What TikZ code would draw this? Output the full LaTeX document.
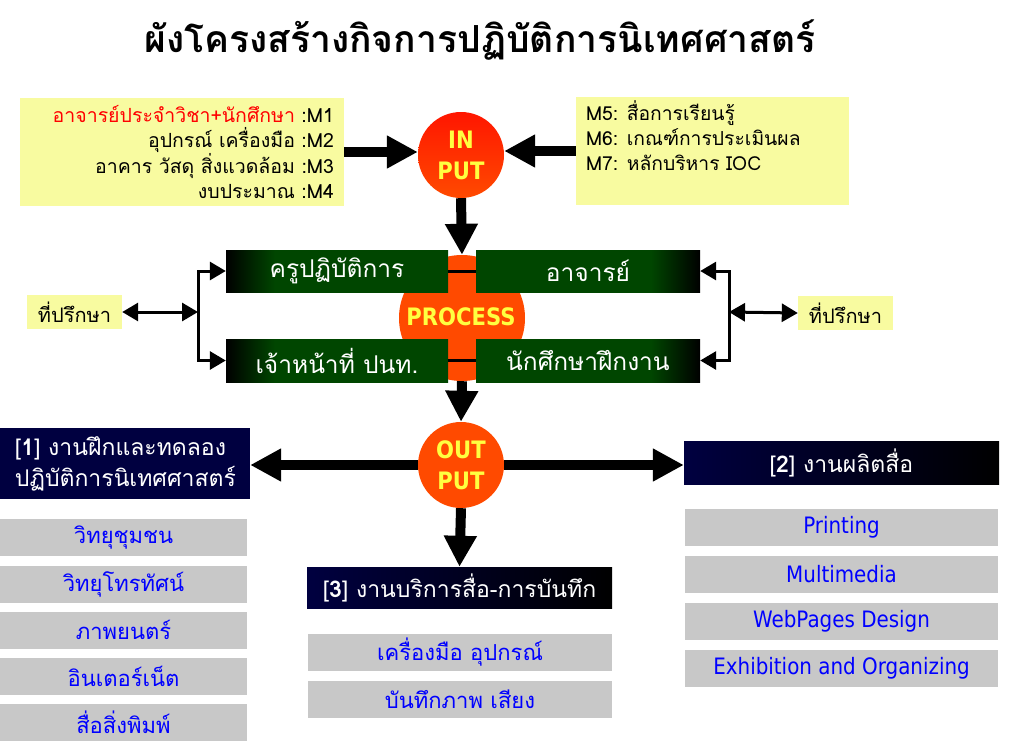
\documentclass[tikz,border=0pt]{standalone}
\usepackage{fontspec}
\setmainfont[Script=Thai]{Loma}
\newfontfamily\latinfont[FakeStretch=0.88]{DejaVu Sans}
\usetikzlibrary{arrows.meta,positioning,shadings}

\definecolor{notebg}{RGB}{248,251,160}
\definecolor{procorange}{RGB}{255,74,0}
\definecolor{inputred}{RGB}{255,22,0}
\definecolor{procgreen}{RGB}{0,70,0}
\definecolor{jobnavy}{RGB}{0,0,64}
\definecolor{itemgray}{RGB}{200,200,200}
\definecolor{itemblue}{RGB}{0,0,255}
\definecolor{hubyellow}{RGB}{255,255,64}

\pgfdeclarehorizontalshading{greenbar}{100bp}{color(0bp)=(black); color(25bp)=(black); color(36bp)=(procgreen); color(100bp)=(procgreen)}

\tikzset{
  note/.style={fill=notebg, inner sep=0pt},
  hub/.style={circle, fill=procorange, minimum size=86pt, inner sep=0pt,
    text=hubyellow, align=center,
    font=\latinfont\bfseries\fontsize{24}{31}\selectfont},
  unit/.style={shading=greenbar, minimum width=222pt, minimum height=42pt,
    inner sep=0pt, text=white, font=\fontsize{24.5}{28}\selectfont},
  job/.style={inner sep=0pt, text=white, font=\fontsize{23}{31}\selectfont},
  item/.style={fill=itemgray, text=itemblue, inner sep=0pt, minimum height=37pt,
    font=\fontsize{22}{26}\selectfont},
  bigarrow/.style={line width=10pt, -{Triangle[length=31pt,width=31pt]}},
  bracket/.style={line width=3pt, {Triangle[length=16pt,width=18pt]}-{Triangle[length=16pt,width=18pt]}},
}

\begin{document}
\begin{tikzpicture}[x=1pt,y=-1pt]
  \path[fill=white,use as bounding box] (0,0) rectangle (1018,752);

  \node[font=\bfseries\fontsize{37.3}{42}\selectfont] (title) at (480,40) {ผังโครงสร้างกิจการปฏิบัติการนิเทศศาสตร์};

  % input side
  \node[note, minimum width=324pt, minimum height=108pt, text width=304pt, align=right,
    font=\fontsize{19.5}{25}\selectfont] (lnote) at (182,152)
    {{\color{red}อาจารย์ประจำวิชา+นักศึกษา} :M1\\อุปกรณ์ เครื่องมือ :M2\\อาคาร วัสดุ สิ่งแวดล้อม :M3\\งบประมาณ :M4};
  \node[note, minimum width=273pt, minimum height=108pt] (rnote) at (712.5,151) {};
  \node[anchor=north west, inner sep=0pt, align=left, font=\fontsize{19.3}{25}\selectfont]
    (rtext) at ([xshift=10pt,yshift=-4pt]rnote.north west)
    {M5: สื่อการเรียนรู้\\M6: เกณฑ์การประเมินผล\\M7: หลักบริหาร IOC};
  \node[hub, fill=none, top color=inputred, bottom color=procorange] (input) at (461,155) {IN\\PUT};

  \draw[bigarrow] (lnote.east) -- (lnote.east -| input.west);
  \draw[bigarrow] (rnote.west) -- (rnote.west -| input.east);

  % process
  \node[hub, minimum size=126pt] (process) at (462,318) {};
  \node[unit] (kru) at (337,271) {ครูปฏิบัติการ};
  \node[unit, minimum width=224pt, shading angle=180] (ajarn) at (588,271) {อาจารย์};
  \node[unit, minimum height=43pt] (staff) at (337,360.5) {เจ้าหน้าที่ ปนท.};
  \node[unit, minimum width=224pt, minimum height=43pt, shading angle=180] (trainee) at (588,360.5) {นักศึกษาฝึกงาน};
  \node[text=hubyellow, font=\latinfont\bfseries\fontsize{24}{28}\selectfont] (proclabel) at (461,317) {PROCESS};
  \draw[line width=3pt] (kru.east) -- (ajarn.west);
  \draw[line width=3pt] (staff.east) -- (trainee.west);

  \draw[bigarrow] (input.south) -- (process.north);

  % advisors
  \node[note, minimum width=95pt, minimum height=34pt, font=\fontsize{20}{22}\selectfont] (ladv) at (74.5,312) {ที่ปรึกษา};
  \node[note, minimum width=95pt, minimum height=34pt, font=\fontsize{20}{22}\selectfont] (radv) at (845.5,313) {ที่ปรึกษา};
  \coordinate (lbr) at (198,312);
  \coordinate (rbr) at (729,312);
  \draw[bracket] (ladv.east) -- (lbr);
  \draw[bracket] (kru.west) -| (lbr) |- (staff.west);
  \draw[bracket] (radv.west) -- (rbr);
  \draw[bracket] (ajarn.east) -| (rbr) |- (trainee.east);

  % output
  \node[hub] (output) at (461,465) {OUT\\PUT};
  \draw[bigarrow] (process.south) -- (output.north);

  \node[job, fill=jobnavy, minimum width=250pt, minimum height=71pt, text width=220pt, align=left]
    (job1) at (125,463.5) {[\textbf{1}] งานฝึกและทดลอง\\ปฏิบัติการนิเทศศาสตร์};
  \node[job, left color=jobnavy, right color=black, minimum width=315pt, minimum height=43pt]
    (job2) at (841.5,462.5) {[\textbf{2}] งานผลิตสื่อ};
  \node[job, left color=jobnavy, right color=black, minimum width=305pt, minimum height=41pt]
    (job3) at (459.5,587.5) {[\textbf{3}] งานบริการสื่อ-การบันทึก};

  \draw[bigarrow] (output.west) -- (job1.east |- output.west);
  \draw[bigarrow] (output.east) -- (job2.west |- output.east);
  \draw[bigarrow] (output.south) -- (job3.north);

  % work items
  \foreach \y/\txt [count=\i] in {537.5/วิทยุชุมชน, 584/วิทยุโทรทัศน์, 630/ภาพยนตร์, 676/อินเตอร์เน็ต, 722/สื่อสิ่งพิมพ์}
    \node[item, minimum width=247pt] (media\i) at (123.5,\y) {\txt};
  \foreach \y/\txt [count=\i] in {652/เครื่องมือ อุปกรณ์, 699/บันทึกภาพ เสียง}
    \node[item, minimum width=304pt] (service\i) at (460,\y) {\txt};
  \foreach \y/\txt [count=\i] in {527/Printing, 574/Multimedia, 621/WebPages Design, 668/Exhibition and Organizing}
    \node[item, minimum width=313pt, font=\latinfont\fontsize{22.6}{26}\selectfont] (produce\i) at (841.5,\y) {\txt};
\end{tikzpicture}
\end{document}
